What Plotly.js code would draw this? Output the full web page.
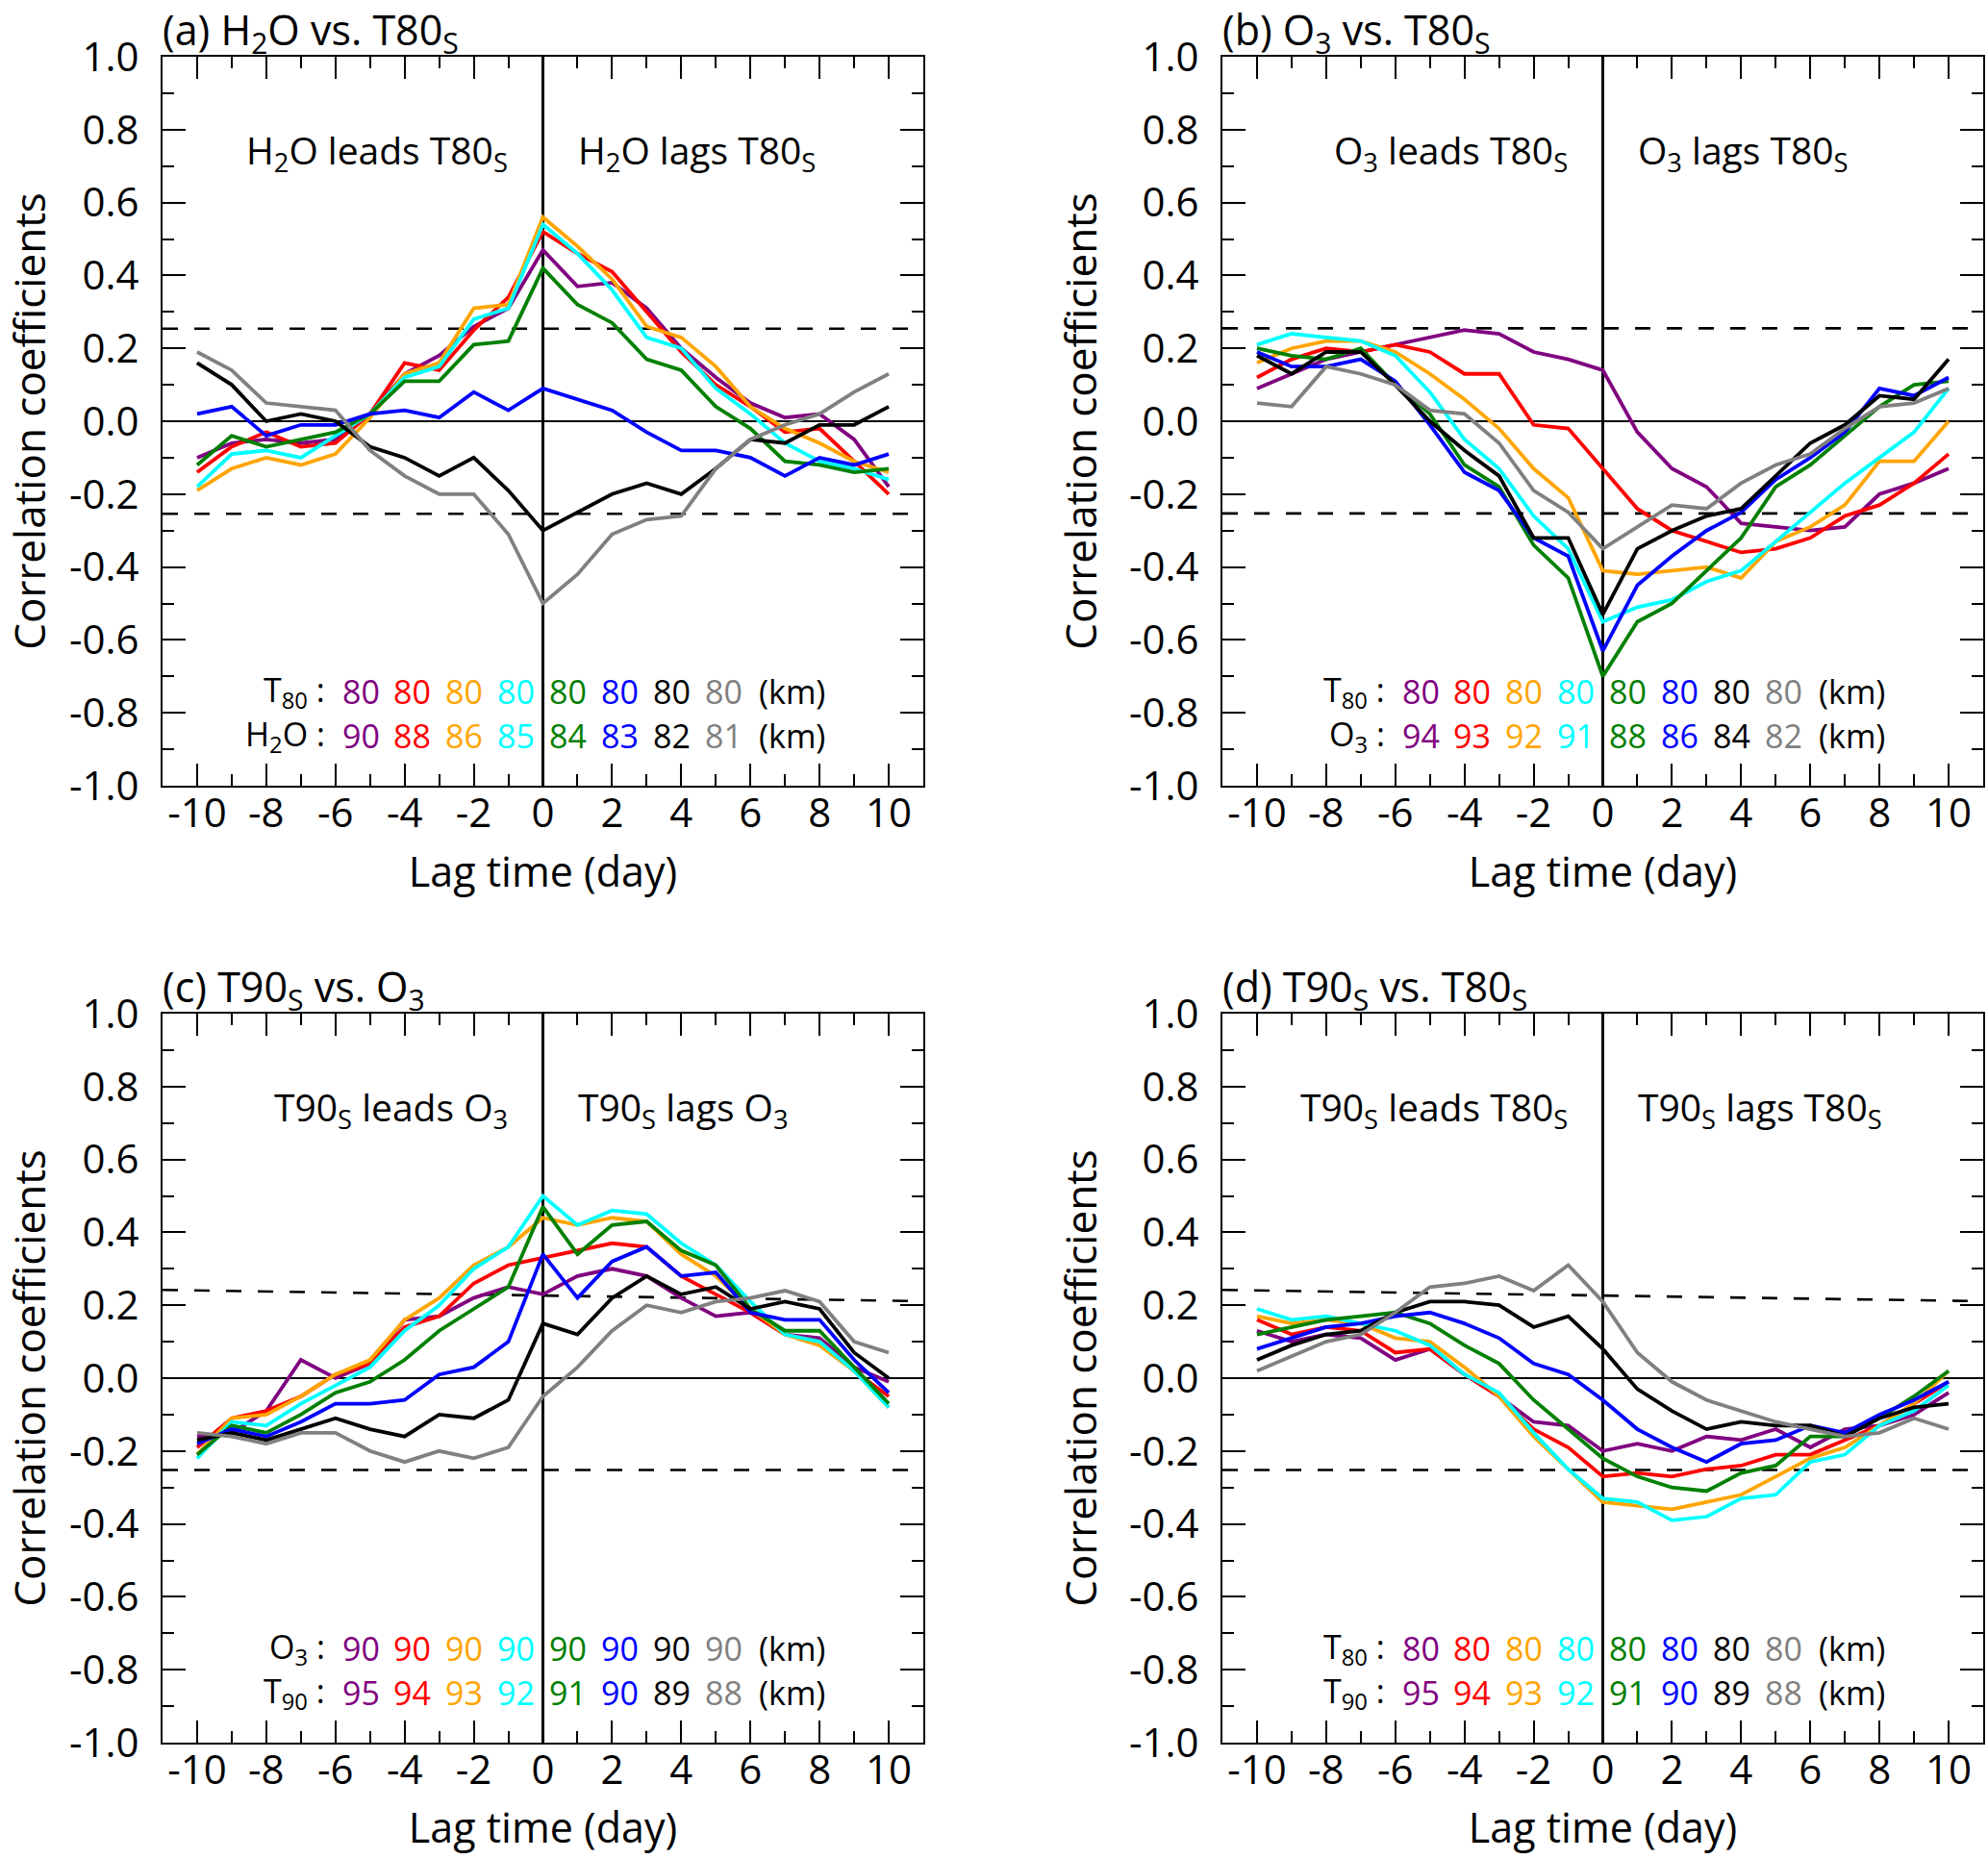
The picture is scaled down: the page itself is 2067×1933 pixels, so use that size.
<!DOCTYPE html>
<html><head><meta charset="utf-8">
<script src="https://cdn.plot.ly/plotly-3.0.1.min.js"></script>
<style>html,body{margin:0;padding:0;background:#fff}</style>
</head><body>
<div id="chart" style="width:2067px;height:1933px"></div>
<script>
// ---------------- data ----------------
const lag = [-10,-9,-8,-7,-6,-5,-4,-3,-2,-1,0,1,2,3,4,5,6,7,8,9,10];

// (a) H2O vs. T80s
const aPurple = [-0.10,-0.06,-0.05,-0.06,-0.05,0.02,0.13,0.18,0.26,0.31,0.47,0.37,0.38,0.31,0.20,0.12,0.05,0.01,0.02,-0.05,-0.18];
const aRed    = [-0.14,-0.07,-0.03,-0.07,-0.06,0.02,0.16,0.14,0.25,0.34,0.52,0.46,0.41,0.30,0.19,0.10,0.04,-0.03,-0.02,-0.11,-0.20];
const aOrange = [-0.19,-0.13,-0.10,-0.12,-0.09,0.01,0.13,0.16,0.31,0.32,0.56,0.48,0.39,0.26,0.23,0.15,0.04,-0.02,-0.06,-0.11,-0.14];
const aCyan   = [-0.18,-0.09,-0.08,-0.10,-0.04,0.02,0.12,0.15,0.28,0.31,0.54,0.46,0.36,0.23,0.20,0.09,0.02,-0.06,-0.11,-0.13,-0.16];
const aGreen  = [-0.12,-0.04,-0.07,-0.05,-0.03,0.02,0.11,0.11,0.21,0.22,0.42,0.32,0.27,0.17,0.14,0.04,-0.02,-0.11,-0.12,-0.14,-0.13];
const aBlue   = [0.02,0.04,-0.04,-0.01,-0.01,0.02,0.03,0.01,0.08,0.03,0.09,0.06,0.03,-0.03,-0.08,-0.08,-0.10,-0.15,-0.10,-0.12,-0.09];
const aBlack  = [0.16,0.10,0.00,0.02,0.00,-0.07,-0.10,-0.15,-0.10,-0.19,-0.30,-0.25,-0.20,-0.17,-0.20,-0.13,-0.05,-0.06,-0.01,-0.01,0.04];
const aGray   = [0.19,0.14,0.05,0.04,0.03,-0.08,-0.15,-0.20,-0.20,-0.31,-0.50,-0.42,-0.31,-0.27,-0.26,-0.13,-0.05,-0.01,0.02,0.08,0.13];

// (b) O3 vs. T80s
const bPurple = [0.09,0.13,0.17,0.19,0.21,0.23,0.25,0.24,0.19,0.17,0.14,-0.03,-0.13,-0.18,-0.28,-0.29,-0.30,-0.29,-0.20,-0.17,-0.13];
const bRed    = [0.12,0.17,0.20,0.19,0.21,0.19,0.13,0.13,-0.01,-0.02,-0.13,-0.24,-0.30,-0.33,-0.36,-0.35,-0.32,-0.26,-0.23,-0.17,-0.09];
const bOrange = [0.16,0.20,0.22,0.22,0.19,0.13,0.06,-0.02,-0.13,-0.21,-0.41,-0.42,-0.41,-0.40,-0.43,-0.33,-0.29,-0.23,-0.11,-0.11,0.00];
const bCyan   = [0.21,0.24,0.23,0.22,0.18,0.08,-0.05,-0.13,-0.26,-0.35,-0.55,-0.51,-0.49,-0.44,-0.41,-0.33,-0.25,-0.17,-0.10,-0.03,0.09];
const bGreen  = [0.20,0.18,0.17,0.20,0.10,0.02,-0.12,-0.18,-0.34,-0.43,-0.70,-0.55,-0.50,-0.41,-0.32,-0.18,-0.12,-0.04,0.04,0.10,0.11];
const bBlue   = [0.19,0.15,0.15,0.17,0.11,-0.01,-0.14,-0.19,-0.32,-0.37,-0.63,-0.45,-0.37,-0.30,-0.25,-0.16,-0.10,-0.03,0.09,0.07,0.12];
const bBlack  = [0.18,0.13,0.19,0.19,0.10,0.00,-0.08,-0.15,-0.32,-0.32,-0.53,-0.35,-0.30,-0.26,-0.24,-0.15,-0.06,-0.01,0.07,0.06,0.17];
const bGray   = [0.05,0.04,0.15,0.13,0.10,0.03,0.02,-0.06,-0.19,-0.25,-0.35,-0.29,-0.23,-0.24,-0.17,-0.12,-0.09,-0.02,0.04,0.05,0.09];

// (c) T90s vs. O3
const cPurple = [-0.16,-0.15,-0.09,0.05,0.00,0.04,0.16,0.17,0.22,0.25,0.23,0.28,0.30,0.28,0.22,0.17,0.18,0.12,0.11,0.03,-0.01];
const cRed    = [-0.19,-0.11,-0.09,-0.05,0.01,0.04,0.14,0.17,0.26,0.31,0.33,0.35,0.37,0.36,0.28,0.23,0.18,0.12,0.10,0.02,-0.05];
const cOrange = [-0.21,-0.11,-0.10,-0.05,0.01,0.05,0.16,0.22,0.31,0.36,0.44,0.42,0.44,0.43,0.34,0.28,0.19,0.12,0.09,0.02,-0.08];
const cCyan   = [-0.22,-0.12,-0.13,-0.07,-0.02,0.03,0.13,0.20,0.30,0.36,0.50,0.42,0.46,0.45,0.37,0.31,0.21,0.12,0.10,0.02,-0.08];
const cGreen  = [-0.21,-0.13,-0.15,-0.10,-0.04,-0.01,0.05,0.13,0.19,0.25,0.47,0.34,0.42,0.43,0.35,0.31,0.19,0.13,0.13,0.03,-0.07];
const cBlue   = [-0.18,-0.14,-0.16,-0.12,-0.07,-0.07,-0.06,0.01,0.03,0.10,0.34,0.22,0.32,0.36,0.28,0.29,0.18,0.16,0.16,0.05,-0.04];
const cBlack  = [-0.17,-0.15,-0.17,-0.14,-0.11,-0.14,-0.16,-0.10,-0.11,-0.06,0.15,0.12,0.22,0.28,0.23,0.25,0.19,0.21,0.19,0.07,0.00];
const cGray   = [-0.15,-0.16,-0.18,-0.15,-0.15,-0.20,-0.23,-0.20,-0.22,-0.19,-0.05,0.03,0.13,0.20,0.18,0.21,0.22,0.24,0.21,0.10,0.07];

// (d) T90s vs. T80s
const dPurple = [0.13,0.10,0.12,0.11,0.05,0.08,0.01,-0.05,-0.12,-0.13,-0.20,-0.18,-0.20,-0.16,-0.17,-0.14,-0.19,-0.14,-0.13,-0.10,-0.04];
const dRed    = [0.16,0.12,0.14,0.13,0.07,0.08,0.01,-0.05,-0.14,-0.19,-0.27,-0.26,-0.27,-0.25,-0.24,-0.21,-0.21,-0.17,-0.13,-0.07,-0.01];
const dOrange = [0.17,0.15,0.16,0.15,0.11,0.10,0.03,-0.05,-0.16,-0.25,-0.34,-0.35,-0.36,-0.34,-0.32,-0.27,-0.22,-0.19,-0.13,-0.07,0.02];
const dCyan   = [0.19,0.16,0.17,0.15,0.13,0.09,0.01,-0.04,-0.15,-0.25,-0.33,-0.34,-0.39,-0.38,-0.33,-0.32,-0.23,-0.21,-0.13,-0.09,-0.02];
const dGreen  = [0.12,0.14,0.16,0.17,0.18,0.15,0.09,0.04,-0.06,-0.14,-0.22,-0.27,-0.30,-0.31,-0.26,-0.24,-0.16,-0.16,-0.11,-0.05,0.02];
const dBlue   = [0.08,0.11,0.14,0.15,0.17,0.18,0.15,0.11,0.04,0.01,-0.06,-0.14,-0.19,-0.23,-0.18,-0.17,-0.13,-0.15,-0.10,-0.06,-0.01];
const dBlack  = [0.05,0.09,0.12,0.13,0.18,0.21,0.21,0.20,0.14,0.17,0.08,-0.03,-0.09,-0.14,-0.12,-0.13,-0.13,-0.16,-0.11,-0.08,-0.07];
const dGray   = [0.02,0.06,0.10,0.12,0.18,0.25,0.26,0.28,0.24,0.31,0.21,0.07,-0.01,-0.06,-0.09,-0.12,-0.14,-0.16,-0.15,-0.11,-0.14];

// significance thresholds (value at left end, value at right end)
const sigX = [-11, 11];
const aSigUp = [0.254, 0.254], aSigLo = [-0.254, -0.254];
const bSigUp = [0.255, 0.255], bSigLo = [-0.253, -0.253];
const cSigUp = [0.242, 0.211], cSigLo = [-0.252, -0.252];
const dSigUp = [0.242, 0.211], dSigLo = [-0.252, -0.252];

// legend heights (km)
const aRow1Label = 'T<sub>80</sub> :', aRow1 = [80,80,80,80,80,80,80,80];
const aRow2Label = 'H<sub>2</sub>O :', aRow2 = [90,88,86,85,84,83,82,81];
const bRow1Label = 'T<sub>80</sub> :', bRow1 = [80,80,80,80,80,80,80,80];
const bRow2Label = 'O<sub>3</sub> :',  bRow2 = [94,93,92,91,88,86,84,82];
const cRow1Label = 'O<sub>3</sub> :',  cRow1 = [90,90,90,90,90,90,90,90];
const cRow2Label = 'T<sub>90</sub> :', cRow2 = [95,94,93,92,91,90,89,88];
const dRow1Label = 'T<sub>80</sub> :', dRow1 = [80,80,80,80,80,80,80,80];
const dRow2Label = 'T<sub>90</sub> :', dRow2 = [95,94,93,92,91,90,89,88];

// titles
const panelTitles = ['(a) H<sub>2</sub>O vs. T80<sub>S</sub>', '(b) O<sub>3</sub> vs. T80<sub>S</sub>',
                     '(c) T90<sub>S</sub> vs. O<sub>3</sub>', '(d) T90<sub>S</sub> vs. T80<sub>S</sub>'];
const leadText = ['H<sub>2</sub>O leads T80<sub>S</sub>', 'O<sub>3</sub> leads T80<sub>S</sub>',
                  'T90<sub>S</sub> leads O<sub>3</sub>', 'T90<sub>S</sub> leads T80<sub>S</sub>'];
const lagText  = ['H<sub>2</sub>O lags T80<sub>S</sub>', 'O<sub>3</sub> lags T80<sub>S</sub>',
                  'T90<sub>S</sub> lags O<sub>3</sub>', 'T90<sub>S</sub> lags T80<sub>S</sub>'];

const xTickVals = [-10,-8,-6,-4,-2,0,2,4,6,8,10];
const xTickText = ['-10','-8','-6','-4','-2','0','2','4','6','8','10'];
const yTickVals = [-1,-0.8,-0.6,-0.4,-0.2,0,0.2,0.4,0.6,0.8,1];
const yTickText = ['-1.0','-0.8','-0.6','-0.4','-0.2','0.0','0.2','0.4','0.6','0.8','1.0'];

const colors = ['#800080','#FF0000','#FFA500','#00FFFF','#008000','#0000FF','#000000','#808080'];

// ---------------- build ----------------
const panels = [
  {series:[aPurple,aRed,aOrange,aCyan,aGreen,aBlue,aBlack,aGray], up:aSigUp, lo:aSigLo, r1l:aRow1Label, r1:aRow1, r2l:aRow2Label, r2:aRow2},
  {series:[bPurple,bRed,bOrange,bCyan,bGreen,bBlue,bBlack,bGray], up:bSigUp, lo:bSigLo, r1l:bRow1Label, r1:bRow1, r2l:bRow2Label, r2:bRow2},
  {series:[cPurple,cRed,cOrange,cCyan,cGreen,cBlue,cBlack,cGray], up:cSigUp, lo:cSigLo, r1l:cRow1Label, r1:cRow1, r2l:cRow2Label, r2:cRow2},
  {series:[dPurple,dRed,dOrange,dCyan,dGreen,dBlue,dBlack,dGray], up:dSigUp, lo:dSigLo, r1l:dRow1Label, r1:dRow1, r2l:dRow2Label, r2:dRow2}
];

const W = 2067, H = 1933;
const xDom = [[169/W, 960/W], [1271/W, 2062/W]];
const yDom = [[1-817/H, 1-59/H], [1-1812/H, 1-1054/H]];
const FONT = 'Open Sans';

const traces = [];
const annotations = [];
const layout = {
  width: W, height: H,
  margin: {l:0, r:0, t:0, b:0},
  paper_bgcolor: '#fff', plot_bgcolor: '#fff',
  showlegend: false,
  font: {family: FONT, color: '#000'},
  annotations: annotations
};

panels.forEach((p, i) => {
  const n = i + 1;
  const xa = 'x' + (n === 1 ? '' : n), ya = 'y' + (n === 1 ? '' : n);
  const xd = xDom[i % 2], yd = yDom[Math.floor(i / 2)];

  // threshold lines
  [p.up, p.lo].forEach(v => traces.push({
    x: sigX, y: v, xaxis: xa, yaxis: ya, mode: 'lines', hoverinfo: 'skip',
    line: {color: '#000', width: 2.6, dash: '16px,17px'}
  }));
  // series
  p.series.forEach((s, k) => traces.push({
    x: lag, y: s, xaxis: xa, yaxis: ya, mode: 'lines',
    line: {color: colors[k], width: 3.8}
  }));

  layout['xaxis' + (n === 1 ? '' : n)] = {
    domain: xd, anchor: ya, range: [-11, 11],
    tickmode: 'array', tickvals: xTickVals, ticktext: xTickText,
    ticks: 'inside', ticklen: 23, tickwidth: 2, tickcolor: '#000',
    minor: {tickmode: 'linear', tick0: 0, dtick: 1, ticks: 'inside', ticklen: 12, tickwidth: 2, tickcolor: '#000'},
    showline: true, linewidth: 2, linecolor: '#000', mirror: 'allticks',
    showgrid: false, zeroline: true, zerolinecolor: '#000', zerolinewidth: 3,
    tickfont: {family: FONT, size: 42, color: '#000'}, ticklabelstandoff: -9,
    title: {text: 'Lag time (day)', font: {family: FONT, size: 43, color: '#000'}, standoff: 20},
    automargin: false, fixedrange: true
  };
  layout['yaxis' + (n === 1 ? '' : n)] = {
    domain: yd, anchor: xa, range: [-1, 1],
    tickmode: 'array', tickvals: yTickVals, ticktext: yTickText,
    ticks: 'inside', ticklen: 24, tickwidth: 2, tickcolor: '#000',
    minor: {tickmode: 'linear', tick0: 0, dtick: 0.1, ticks: 'inside', ticklen: 12, tickwidth: 2, tickcolor: '#000'},
    showline: true, linewidth: 2, linecolor: '#000', mirror: 'allticks',
    showgrid: false, zeroline: true, zerolinecolor: '#000', zerolinewidth: 2,
    tickfont: {family: FONT, size: 42, color: '#000'}, ticklabelstandoff: 14,
    title: {text: 'Correlation coefficients', font: {family: FONT, size: 44, color: '#000'}, standoff: 20},
    automargin: false, fixedrange: true
  };

  // panel title
  annotations.push({xref: 'paper', yref: 'paper', x: xd[0] - 2/W, y: yd[1] + 60/H,
    xanchor: 'left', yanchor: 'top', showarrow: false, text: panelTitles[i],
    font: {family: FONT, size: 43, color: '#000'}});
  // lead / lag labels
  annotations.push({xref: xa, yref: ya, x: -0.95, y: 0.74, xanchor: 'right', yanchor: 'middle',
    showarrow: false, text: leadText[i], font: {family: FONT, size: 39, color: '#000'}});
  annotations.push({xref: xa, yref: ya, x: 0.95, y: 0.74, xanchor: 'left', yanchor: 'middle',
    showarrow: false, text: lagText[i], font: {family: FONT, size: 39, color: '#000'}});

  // height legend
  [[p.r1l, p.r1, -0.742], [p.r2l, p.r2, -0.862]].forEach(([lab, vals, yy]) => {
    annotations.push({xref: xa, yref: ya, x: -6.25, y: yy, xanchor: 'right', yanchor: 'middle',
      showarrow: false, text: lab, font: {family: FONT, size: 34, color: '#000'}});
    vals.forEach((v, k) => annotations.push({xref: xa, yref: ya, x: -5.27 + 1.499 * k, y: yy,
      xanchor: 'center', yanchor: 'middle', showarrow: false, text: String(v),
      font: {family: FONT, size: 34, color: colors[k]}}));
    annotations.push({xref: xa, yref: ya, x: 7.19, y: yy, xanchor: 'center', yanchor: 'middle',
      showarrow: false, text: '(km)', font: {family: FONT, size: 34, color: '#000'}});
  });
});

Plotly.newPlot('chart', traces, layout, {displayModeBar: false, staticPlot: true});
</script>
</body></html>
